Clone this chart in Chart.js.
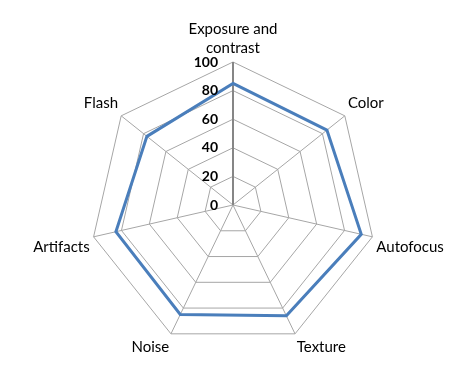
<!DOCTYPE html>
<html><head><meta charset="utf-8">
<script src="https://cdn.jsdelivr.net/npm/chart.js@4/dist/chart.umd.min.js"></script>
<style>html,body{margin:0;padding:0;background:#fff}#wrap{width:475px;height:385px}</style>
</head><body><div id="wrap"><canvas id="c"></canvas></div>
<script>
const categories = [['Exposure and','contrast'], 'Color', 'Autofocus', 'Texture', 'Noise', 'Artifacts', 'Flash'];
const scores = [85, 84, 92, 86, 85, 84, 77];
const tickValues = [0, 20, 40, 60, 80, 100];

const tickLabelPlugin = {
  id: 'tickLabels',
  afterDraw(chart) {
    const s = chart.scales.r, ctx = chart.ctx;
    ctx.save();
    ctx.font = 'bold 14px Lato, "Liberation Sans", sans-serif';
    ctx.fillStyle = '#000';
    ctx.textAlign = 'right';
    ctx.textBaseline = 'middle';
    tickValues.forEach(v => {
      const p = s.getPointPositionForValue(0, v);
      ctx.fillText(String(v), p.x - 15, p.y);
    });
    ctx.restore();
  }
};

new Chart(document.getElementById('c'), {
  type: 'radar',
  data: {
    labels: categories,
    datasets: [{
      data: scores,
      borderColor: '#4A7EBB',
      borderWidth: 3,
      backgroundColor: 'rgba(0,0,0,0)',
      fill: false,
      pointRadius: 0,
      pointHoverRadius: 0,
      tension: 0
    }]
  },
  options: {
    responsive: true,
    maintainAspectRatio: false,
    animation: false,
    layout: { padding: { top: -8, bottom: 12, left: 12, right: 8 } },
    plugins: { legend: { display: false }, tooltip: { enabled: false } },
    scales: {
      r: {
        min: 0, max: 100,
        ticks: { stepSize: 20, display: false },
        grid: { color: '#a6a6a6', lineWidth: 1, circular: false },
        angleLines: { color: (c) => c.index === 0 ? '#868686' : '#a6a6a6', lineWidth: (c) => c.index === 0 ? 2 : 1 },
        pointLabels: { color: '#000', font: { family: 'Lato, "Liberation Sans", sans-serif', size: 15, lineHeight: 1.3 }, padding: 4 }
      }
    }
  },
  plugins: [tickLabelPlugin]
});
</script></body></html>
